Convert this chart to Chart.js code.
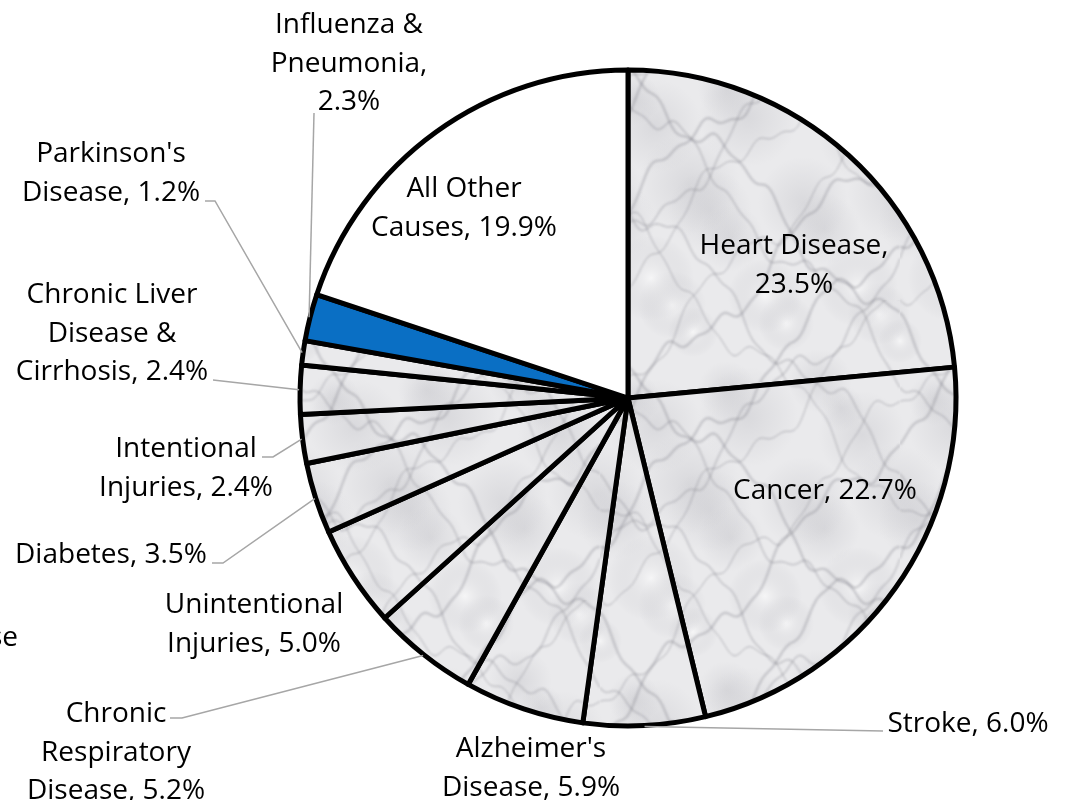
<!DOCTYPE html>
<html>
<head>
<meta charset="utf-8">
<script src="https://cdn.jsdelivr.net/npm/chart.js@4.4.1/dist/chart.umd.min.js"></script>
<style>
  html, body { margin: 0; padding: 0; background: #fff; }
  #wrap { width: 1067px; height: 800px; }
</style>
</head>
<body>
<div id="wrap"><canvas id="causesPie" width="1067" height="800"></canvas></div>
<script>
const categories = ['Heart Disease', 'Cancer', 'Stroke', "Alzheimer's Disease", 'Chronic Respiratory Disease',
  'Unintentional Injuries', 'Diabetes', 'Intentional Injuries', 'Chronic Liver Disease & Cirrhosis',
  "Parkinson's Disease", 'Influenza & Pneumonia', 'All Other Causes'];
const shares = [23.5, 22.7, 6.0, 5.9, 5.2, 5.0, 3.5, 2.4, 2.4, 1.2, 2.3, 19.9];

// words per line in each data label ("Name, 12.3%")
const labelWrap = [[2, 1], [2], [2], [1, 2], [1, 1, 2], [1, 2], [2], [1, 2], [2, 2, 2], [1, 2], [2, 1, 1], [2, 2]];

// label centre x, first baseline, leader line start points (ends on the slice)
const labelPos = [
  { x: 794, y: 254 },
  { x: 825, y: 499 },
  { x: 968, y: 732, leader: [[883, 731]] },
  { x: 531, y: 757 },
  { x: 116, y: 722, leader: [[170, 718], [182, 718]] },
  { x: 254, y: 613 },
  { x: 111, y: 563, leader: [[212, 563], [223, 563]] },
  { x: 186, y: 457, leader: [[262, 457], [273, 457]] },
  { x: 112, y: 303, leader: [[213, 380]] },
  { x: 111, y: 162, leader: [[205, 201], [215, 201]] },
  { x: 349, y: 33, leader: [[314, 113]] },
  { x: 464, y: 197 }
];
const lineGap = 38.5;

const canvas = document.getElementById('causesPie');

// seamless grey marble tile
function marblePattern() {
  const S = 300;
  const c = document.createElement('canvas');
  c.width = S; c.height = S;
  const g = c.getContext('2d');
  g.fillStyle = '#eaeaec';
  g.fillRect(0, 0, S, S);
  const TAU = Math.PI * 2;
  // soft clouds, wrapped on all sides
  for (let i = 0; i < 22; i++) {
    const cx = (i * 131) % S, cy = (i * 197 + 41) % S, r = 22 + (i * 11) % 30;
    for (let dx = -S; dx <= S; dx += S) {
      for (let dy = -S; dy <= S; dy += S) {
        const grad = g.createRadialGradient(cx + dx, cy + dy, 0, cx + dx, cy + dy, r);
        grad.addColorStop(0, i % 3 ? 'rgba(175,175,182,0.28)' : 'rgba(255,255,255,0.55)');
        grad.addColorStop(1, 'rgba(175,175,182,0)');
        g.fillStyle = grad;
        g.fillRect(cx + dx - r, cy + dy - r, 2 * r, 2 * r);
      }
    }
  }
  // veins running diagonally, periodic over the tile
  g.filter = 'blur(1.2px)';
  for (let k = 0; k < 9; k++) {
    const slope = k % 2 ? 1 : -1;
    const base = (k * 67) % S;
    g.strokeStyle = k % 3 ? 'rgba(120,120,128,0.30)' : 'rgba(95,95,105,0.38)';
    g.lineWidth = 1 + (k % 3) * 0.7;
    for (let dy = -S; dy <= S; dy += S) {
      g.beginPath();
      for (let t = 0; t <= S; t += 3) {
        const u = t / S;
        const y = base + dy + slope * t
          + 16 * Math.sin(TAU * u * 2 + k)
          + 7 * Math.sin(TAU * u * 5 + k * 2.3)
          + 3 * Math.sin(TAU * u * 11 + k * 0.7);
        if (t === 0) g.moveTo(t, y); else g.lineTo(t, y);
      }
      g.stroke();
    }
  }
  return canvas.getContext('2d').createPattern(c, 'repeat');
}

const marble = marblePattern();
const fills = categories.map((c, i) => i === 10 ? '#0a6fc4' : (i === 11 ? '#ffffff' : marble));

function wrapLabel(i) {
  const words = (categories[i] + ', ' + shares[i].toFixed(1) + '%').split(' ');
  const lines = [];
  let k = 0;
  labelWrap[i].forEach(n => { lines.push(words.slice(k, k + n).join(' ')); k += n; });
  return lines;
}

const pieLabels = {
  id: 'pieLabels',
  afterDatasetsDraw(chart) {
    const ctx = chart.ctx;
    const arcs = chart.getDatasetMeta(0).data;
    ctx.save();
    arcs.forEach((arc, i) => {
      const pos = labelPos[i];
      if (pos.leader) {
        const p = arc.getProps(['x', 'y', 'startAngle', 'endAngle', 'outerRadius'], true);
        const mid = (p.startAngle + p.endAngle) / 2;
        ctx.beginPath();
        ctx.moveTo(pos.leader[0][0], pos.leader[0][1]);
        pos.leader.slice(1).forEach(pt => ctx.lineTo(pt[0], pt[1]));
        ctx.lineTo(p.x + Math.cos(mid) * (p.outerRadius + 1), p.y + Math.sin(mid) * (p.outerRadius + 1));
        ctx.strokeStyle = '#a6a6a6';
        ctx.lineWidth = 1.5;
        ctx.stroke();
      }
      ctx.fillStyle = '#000000';
      ctx.font = '28px "Open Sans"';
      ctx.textAlign = 'center';
      ctx.textBaseline = 'alphabetic';
      wrapLabel(i).forEach((t, k) => ctx.fillText(t, pos.x, pos.y + k * lineGap));
    });
    // label cut off at the left edge
    ctx.textAlign = 'right';
    ctx.fillText('Disease', 18, 646);
    ctx.restore();
  }
};

new Chart(canvas, {
  type: 'pie',
  data: {
    labels: categories,
    datasets: [{
      data: shares,
      backgroundColor: fills,
      borderColor: '#000000',
      borderWidth: 5,
      hoverBorderWidth: 5,
      hoverOffset: 0,
      borderJoinStyle: 'round',
      radius: 328
    }]
  },
  options: {
    responsive: false,
    animation: false,
    events: [],
    layout: { padding: { left: 258, right: 69, top: 58, bottom: 62 } },
    plugins: {
      legend: { display: false },
      tooltip: { enabled: false }
    }
  },
  plugins: [pieLabels]
});
</script>
</body>
</html>
